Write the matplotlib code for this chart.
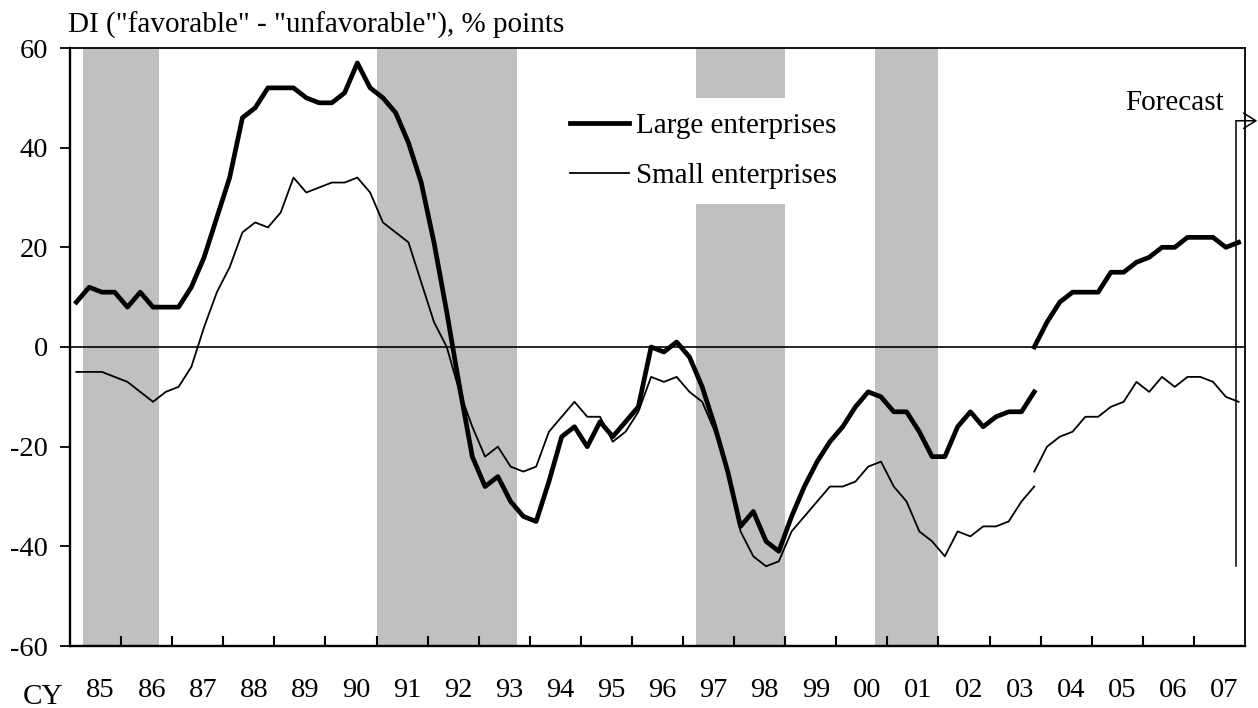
import numpy as np
import pandas as pd
import matplotlib
matplotlib.use("Agg")
import matplotlib.pyplot as plt

plt.rcParams['font.family'] = ['Liberation Serif', 'DejaVu Serif']

# ---------------- data ----------------
# old survey basis: 1985Q1 - 2003Q4
large_old = [9, 12, 11, 11, 8, 11, 8, 8, 8, 12, 18, 26, 34, 46, 48, 52,
             52, 52, 50, 49, 49, 51, 57, 52, 50, 47, 41, 33, 21, 7, -8, -22,
             -28, -26, -31, -34, -35, -27, -18, -16, -20, -15, -18, -15, -12, 0, -1, 1,
             -2, -8, -16, -25, -36, -33, -39, -41, -34, -28, -23, -19, -16, -12, -9, -10,
             -13, -13, -17, -22, -22, -16, -13, -16, -14, -13, -13, -9]
small_old = [-5, -5, -5, -6, -7, -9, -11, -9, -8, -4, 4, 11, 16, 23, 25, 24,
             27, 34, 31, 32, 33, 33, 34, 31, 25, 23, 21, 13, 5, 0, -9, -16,
             -22, -20, -24, -25, -24, -17, -14, -11, -14, -14, -19, -17, -13, -6, -7, -6,
             -9, -11, -17, -25, -37, -42, -44, -43, -37, -34, -31, -28, -28, -27, -24, -23,
             -28, -31, -37, -39, -42, -37, -38, -36, -36, -35, -31, -28]
# new survey basis: 2003Q4 - 2007Q4 (incl. forecast)
large_new = [0, 5, 9, 11, 11, 11, 15, 15, 17, 18, 20, 20, 22, 22, 22, 20, 21]
small_new = [-25, -20, -18, -17, -14, -14, -12, -11, -7, -9, -6, -8, -6, -6, -7, -10, -11]

quarters_old = pd.period_range('1985Q1', '2003Q4', freq='Q')
quarters_new = pd.period_range('2003Q4', '2007Q4', freq='Q')

# recession periods (decimal years)
recessions = [(1985.25, 1986.75), (1991.0, 1993.75), (1997.25, 1999.0), (2000.75, 2002.0)]
years = list(range(1985, 2008))
year_labels = [f"{y % 100:02d}" for y in years]
yticks = [-60, -40, -20, 0, 20, 40, 60]

forecast_x = 2007.82
forecast_range = (-44, 45.4)


def to_dec(periods):
    return np.array([p.year + (p.quarter - 0.5) / 4 for p in periods])


x_old = to_dec(quarters_old)
x_new = to_dec(quarters_new)

# ---------------- figure ----------------
fig = plt.figure(figsize=(12.58, 7.08), dpi=100)
ax = fig.add_axes([70 / 1258, 1 - 646 / 708, 1175 / 1258, 598 / 708])

for (s, e) in recessions:
    ax.axvspan(s, e, color='#c0c0c0', lw=0, zorder=0)

ax.axhline(0, color='black', lw=1.2, zorder=1)

l1, = ax.plot(x_old, large_old, color='black', lw=3.4, zorder=3)
l2, = ax.plot(x_old, small_old, color='black', lw=1.3, zorder=3)
ax.plot(x_new, large_new, color='black', lw=3.4, zorder=3)
ax.plot(x_new, small_new, color='black', lw=1.3, zorder=3)

ax.set_xlim(1985, 2008)
ax.set_ylim(-60, 60)

ax.set_yticks(yticks)
ax.set_yticklabels([str(v) for v in yticks], fontsize=20.5)
ax.tick_params(axis='y', direction='out', length=7, width=1.3, pad=9)

ax.set_xticks(years[1:])
ax.set_xticklabels([])
ax.tick_params(axis='x', which='major', direction='in', length=7.5, width=1.5)
ax.set_xticks([y + 0.6 for y in years], minor=True)
ax.set_xticklabels(year_labels, minor=True, fontsize=20.5)
ax.tick_params(axis='x', which='minor', length=0, pad=23)

for side in ['left', 'bottom']:
    ax.spines[side].set_linewidth(1.7)
for side in ['top', 'right']:
    ax.spines[side].set_linewidth(1.3)

leg = ax.legend([l1, l2], ['Large enterprises', 'Small enterprises'],
                loc='upper left', bbox_to_anchor=(0.401, 0.94),
                fontsize=21, frameon=True, facecolor='white', edgecolor='none',
                framealpha=1, fancybox=False, handlelength=2.0, handletextpad=0.25,
                labelspacing=0.8, borderpad=0.5)
leg.set_zorder(2)

# forecast marker
ax.plot([forecast_x, forecast_x], list(forecast_range), color='black', lw=1.1, zorder=4)
ax.annotate('', xy=(2008.24, forecast_range[1]), xytext=(forecast_x, forecast_range[1]),
            arrowprops=dict(arrowstyle='->, head_length=0.4, head_width=0.25', lw=1.1,
                            color='black', mutation_scale=22, shrinkA=0, shrinkB=0),
            annotation_clip=False, zorder=4)
ax.text(2007.59, 49.0, 'Forecast', ha='right', va='center', fontsize=21)

fig.text(68 / 1258, 1 - 25 / 708, 'DI ("favorable" - "unfavorable"), % points',
         ha='left', va='center', fontsize=21)
fig.text(43 / 1258, 1 - 697 / 708, 'CY', ha='center', va='center', fontsize=21)

fig.savefig('out.png', dpi=100)
